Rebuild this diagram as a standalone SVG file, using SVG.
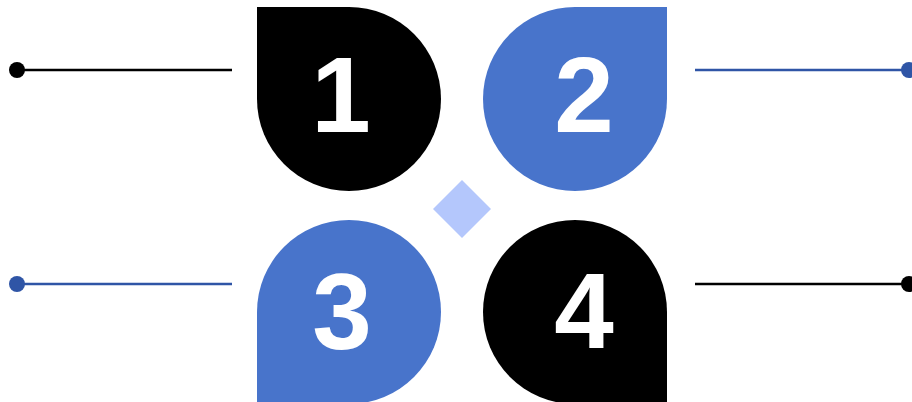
<svg xmlns="http://www.w3.org/2000/svg" width="912" height="402" viewBox="0 0 912 402">
<style>
.num{font-family:"Liberation Sans",Arial,sans-serif;font-weight:bold;font-size:107px;fill:#fff;text-anchor:middle}
.blk{fill:#000}
.blu{fill:#4874CB}
.ln{stroke-width:2.5;fill:none}
</style>
<rect width="912" height="402" fill="#fff"/>
<g id="connectors">
<line class="ln" x1="17" y1="70" x2="232" y2="70" stroke="#000"/>
<circle cx="17" cy="70" r="8" fill="#000"/>
<line class="ln" x1="695" y1="70" x2="908" y2="70" stroke="#2F55A6"/>
<circle cx="909" cy="70" r="8" fill="#2F55A6"/>
<line class="ln" x1="17" y1="284" x2="232" y2="284" stroke="#2F55A6"/>
<circle cx="17" cy="284" r="8" fill="#2F55A6"/>
<line class="ln" x1="695" y1="284" x2="908" y2="284" stroke="#000"/>
<circle cx="909" cy="284" r="8" fill="#000"/>
</g>
<g id="diamond"><polygon points="462,180 491,209 462,238 433,209" fill="#B4C7FC"/></g>
<g id="node1">
<path class="blk" d="M257,7 H349 A92,92 0 0 1 441,99 A92,92 0 0 1 349,191 A92,92 0 0 1 257,99 Z"/>
<text class="num" x="341" y="132">1</text>
</g>
<g id="node2">
<path class="blu" d="M667,7 V99 A92,92 0 0 1 575,191 A92,92 0 0 1 483,99 A92,92 0 0 1 575,7 Z"/>
<text class="num" x="584" y="132">2</text>
</g>
<g id="node3">
<path class="blu" d="M257,404 V312 A92,92 0 0 1 349,220 A92,92 0 0 1 441,312 A92,92 0 0 1 349,404 Z"/>
<text class="num" x="342" y="349">3</text>
</g>
<g id="node4">
<path class="blk" d="M667,404 H575 A92,92 0 0 1 483,312 A92,92 0 0 1 575,220 A92,92 0 0 1 667,312 Z"/>
<text class="num" x="584" y="348">4</text>
</g>
</svg>
